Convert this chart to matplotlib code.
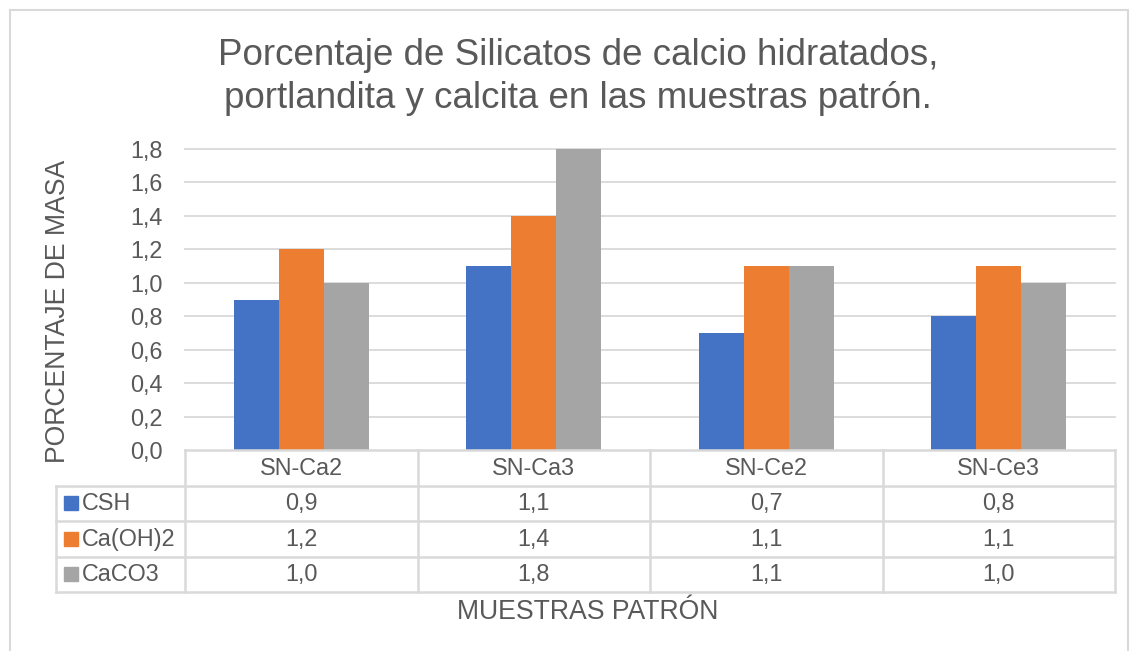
import matplotlib
matplotlib.use('Agg')
import matplotlib.pyplot as plt
from matplotlib.patches import Rectangle

# datos de las muestras patrón (porcentaje de masa)
muestras = ['SN-Ca2', 'SN-Ca3', 'SN-Ce2', 'SN-Ce3']
series = ['CSH', 'Ca(OH)2', 'CaCO3']
csh = [0.9, 1.1, 0.7, 0.8]
caoh2 = [1.2, 1.4, 1.1, 1.1]
caco3 = [1.0, 1.8, 1.1, 1.0]
colores = ['#4472C4', '#ED7D31', '#A5A5A5']

plt.rcParams['font.family'] = ['Liberation Sans', 'DejaVu Sans']
gris_texto = '#595959'
gris_linea = '#D9D9D9'

W, H = 1130, 651
fig = plt.figure(figsize=(W / 100, H / 100), dpi=100)


def px(l, t, r, b):
    return [l / W, 1 - b / H, (r - l) / W, (b - t) / H]


def coma(v):
    return f'{v:.1f}'.replace('.', ',')


# marco exterior
fig.patches.append(Rectangle((10 / W, -0.05), 1118 / W, 1 - 10 / H + 0.05,
                             transform=fig.transFigure, fill=False,
                             edgecolor=gris_linea, lw=1.5))

ax = fig.add_axes(px(185, 149, 1115, 450))
valores = [csh, caoh2, caco3]
ancho = 0.194
for k, (vals, c) in enumerate(zip(valores, colores)):
    ax.bar([i + (k - 1) * ancho for i in range(len(muestras))], vals,
           width=ancho, color=c, zorder=2)
ax.set_xlim(-0.5, 3.5)
ax.set_ylim(0, 1.8)
ticks = [i * 0.2 for i in range(10)]
ax.set_yticks(ticks)
ax.set_yticklabels([coma(t) for t in ticks], color=gris_texto, fontsize=16.8)
ax.tick_params(axis='y', length=0, pad=16)
ax.set_xticks([])
for t in ticks[1:]:
    ax.axhline(t, color=gris_linea, lw=1.3, zorder=1, clip_on=False)
for s in ax.spines.values():
    s.set_visible(False)

# tabla de datos bajo el gráfico
tx = fig.add_axes(px(56, 450, 1115, 592))
izq = -0.5 - (185 - 56) / 232.5
tx.set_xlim(izq, 3.5)
tx.set_ylim(4, 0)
tx.axis('off')
lk = dict(color=gris_linea, lw=1.8, clip_on=False, solid_capstyle='projecting')
tx.plot([-0.5, 3.5], [0, 0], **lk)
for r in range(1, 5):
    tx.plot([izq, 3.5], [r, r], **lk)
tx.plot([izq, izq], [1, 4], **lk)
for i in range(len(muestras) + 1):
    tx.plot([i - 0.5, i - 0.5], [0, 4], **lk)

fs = 16.8
for i, m in enumerate(muestras):
    tx.text(i, 0.52, m, ha='center', va='center', color=gris_texto, fontsize=fs)
for r, (nombre, vals, c) in enumerate(zip(series, valores, colores), start=1):
    tx.plot([izq + 14.5 / 232.5], [r + 0.5], marker='s', ms=9.4, color=c,
            clip_on=False)
    tx.text(izq + 26 / 232.5, r + 0.52, nombre, ha='left', va='center',
            color=gris_texto, fontsize=fs)
    for i, v in enumerate(vals):
        tx.text(i, r + 0.52, coma(v), ha='center', va='center',
                color=gris_texto, fontsize=fs)

titulo = ['Porcentaje de Silicatos de calcio hidratados,',
          'portlandita y calcita en las muestras patrón.']
for j, linea in enumerate(titulo):
    fig.text(578 / W, 1 - (65 + 43 * j) / H, linea, ha='center',
             va='baseline', fontsize=26.5, color=gris_texto)
fig.text(58 / W, 1 - 311 / H, 'PORCENTAJE DE MASA', rotation=90,
         ha='center', va='center', fontsize=19.2, color=gris_texto)
fig.text(588 / W, 1 - 612 / H, 'MUESTRAS PATRÓN', ha='center', va='center',
         fontsize=19.2, color=gris_texto)

fig.savefig('out.png', dpi=100)
